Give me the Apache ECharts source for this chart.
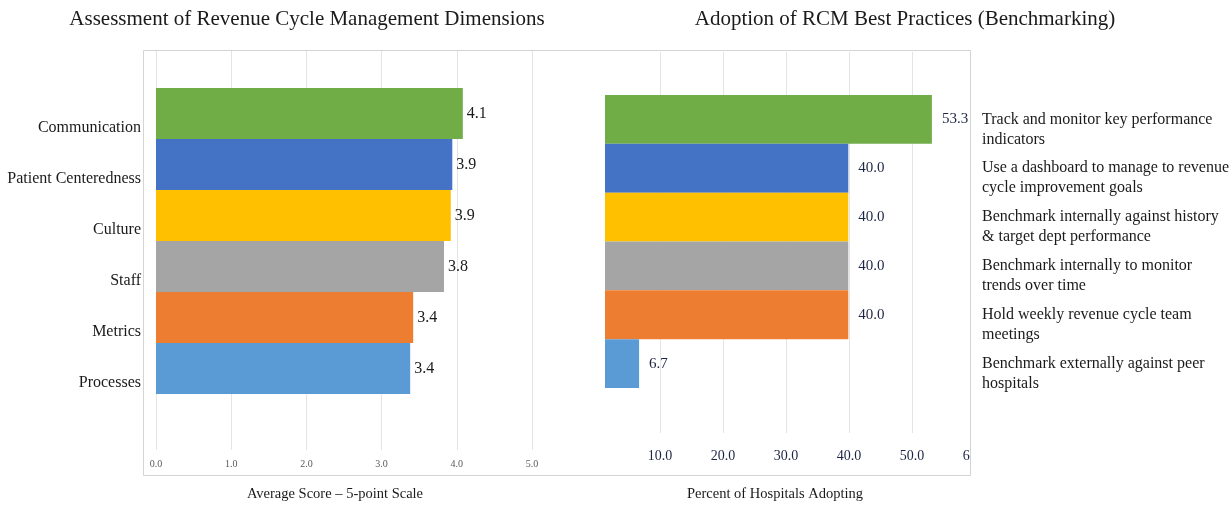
<!DOCTYPE html>
<html>
<head>
<meta charset="utf-8">
<script src="https://cdn.jsdelivr.net/npm/echarts@6/dist/echarts.min.js"></script>
<style>html,body{margin:0;padding:0;background:#fff}#c{width:1232px;height:506px}</style>
</head>
<body>
<div id="c"></div>
<script>
const leftCategories = ['Communication', 'Patient Centeredness', 'Culture', 'Staff', 'Metrics', 'Processes'];
const leftValues = [4.08, 3.94, 3.92, 3.83, 3.42, 3.38];
const leftTicks = [0, 1, 2, 3, 4, 5];

const rightCategories = [
  'Track and monitor key performance\nindicators',
  'Use a dashboard to manage to revenue\ncycle improvement goals',
  'Benchmark internally against history\n& target dept performance',
  'Benchmark internally to monitor\ntrends over time',
  'Hold weekly revenue cycle team\nmeetings',
  'Benchmark externally against peer\nhospitals'
];
const rightValues = [53.3, 40.0, 40.0, 40.0, 40.0, 6.7];
const rightTicks = [0, 10, 20, 30, 40, 50, 60];

const barColors = ['#70AD47', '#4472C4', '#FFC000', '#A5A5A5', '#ED7D31', '#5B9BD5'];

const titles = ['Assessment of Revenue Cycle Management Dimensions', 'Adoption of RCM Best Practices (Benchmarking)'];
const axisNames = ['Average Score \u2013 5-point Scale', 'Percent of Hospitals Adopting'];

const SERIF = "'Liberation Serif', 'Times New Roman', serif";
const NAVY = '#1c2544';

const chart = echarts.init(document.getElementById('c'), null, {renderer: 'canvas'});

chart.setOption({
  backgroundColor: '#fff',
  animation: false,
  textStyle: {fontFamily: SERIF},
  grid: [
    {left: 156, top: 50, width: 376, height: 400},
    {left: 156, top: 88, width: 376, height: 306},
    {left: 597, top: 52, width: 378, height: 381},
    {left: 597, top: 95, width: 378, height: 293}
  ],
  xAxis: [
    {gridIndex: 0, type: 'value', min: leftTicks[0], max: leftTicks[leftTicks.length - 1], interval: 1,
     axisLine: {show: false}, axisTick: {show: false},
     splitLine: {show: true, lineStyle: {color: '#e4e4e4', width: 1}},
     axisLabel: {fontFamily: SERIF, fontSize: 10, color: '#595959', margin: 9,
                 formatter: v => v.toFixed(1)}},
    {gridIndex: 1, type: 'value', min: 0, max: 5, show: false},
    {gridIndex: 2, type: 'value', min: rightTicks[0], max: rightTicks[rightTicks.length - 1], interval: 10,
     axisLine: {show: false}, axisTick: {show: false},
     splitLine: {show: true, lineStyle: {color: '#e4e4e4', width: 1}},
     axisLabel: {fontFamily: SERIF, fontSize: 14, color: NAVY, margin: 16,
                 formatter: v => v === 0 ? '' : v.toFixed(1)}},
    {gridIndex: 3, type: 'value', min: 0, max: 60, show: false}
  ],
  yAxis: [
    {gridIndex: 0, type: 'value', show: false},
    {gridIndex: 1, type: 'category', data: leftCategories, inverse: true,
     axisLine: {show: false}, axisTick: {show: false}, splitLine: {show: false},
     axisLabel: {interval: 0, fontFamily: SERIF, fontSize: 16, color: '#1a1a1a', margin: 15,
                 lineHeight: 29, formatter: v => '\n' + v}},
    {gridIndex: 2, type: 'value', show: false},
    {gridIndex: 3, type: 'category', data: rightCategories, inverse: true, position: 'right',
     axisLine: {show: false}, axisTick: {show: false}, splitLine: {show: false},
     axisLabel: {interval: 0, hideOverlap: false, fontFamily: SERIF, fontSize: 16, color: '#1a1a1a', margin: 8,
                 align: 'left', lineHeight: 20, formatter: v => '\n' + v}}
  ],
  series: [
    {type: 'bar', xAxisIndex: 1, yAxisIndex: 1, barWidth: '100%',
     data: leftValues.map((v, i) => ({value: v, itemStyle: {color: barColors[i]}})),
     label: {show: true, position: 'right', distance: 4, fontFamily: SERIF, fontSize: 16, color: '#1a1a1a',
             formatter: p => p.value.toFixed(1)}},
    {type: 'bar', xAxisIndex: 3, yAxisIndex: 3, barWidth: '100%',
     data: rightValues.map((v, i) => ({value: v, itemStyle: {color: barColors[i]}})),
     label: {show: true, position: 'right', distance: 10, fontFamily: SERIF, fontSize: 15, color: NAVY,
             formatter: p => p.value.toFixed(1)}}
  ],
  graphic: [
    {type: 'rect', z: 100, silent: true, shape: {x: 560, y: 51, width: 45, height: 420}, style: {fill: '#fff'}},
    {type: 'rect', z: 100, silent: true, shape: {x: 971, y: 40, width: 11, height: 434}, style: {fill: '#fff'}},
    {type: 'rect', z: 100, silent: true, shape: {x: 971, y: 438, width: 30, height: 36}, style: {fill: '#fff'}},
    {type: 'rect', z: 101, silent: true, shape: {x: 143.5, y: 50.5, width: 827, height: 425},
     style: {fill: 'none', stroke: '#d4d4d4', lineWidth: 1}},
    {type: 'text', z: 102, x: 307, y: 19, style: {text: titles[0], fontFamily: SERIF, fontSize: 21, fill: '#1a1a1a',
      textAlign: 'center', textVerticalAlign: 'middle'}},
    {type: 'text', z: 102, x: 905, y: 19, style: {text: titles[1], fontFamily: SERIF, fontSize: 21, fill: '#1a1a1a',
      textAlign: 'center', textVerticalAlign: 'middle'}},
    {type: 'text', z: 102, x: 335, y: 494, style: {text: axisNames[0], fontFamily: SERIF, fontSize: 14.5, fill: '#1a1a1a',
      textAlign: 'center', textVerticalAlign: 'middle'}},
    {type: 'text', z: 102, x: 775, y: 494, style: {text: axisNames[1], fontFamily: SERIF, fontSize: 14.5, fill: '#1a1a1a',
      textAlign: 'center', textVerticalAlign: 'middle'}}
  ]
});
</script>
</body>
</html>
